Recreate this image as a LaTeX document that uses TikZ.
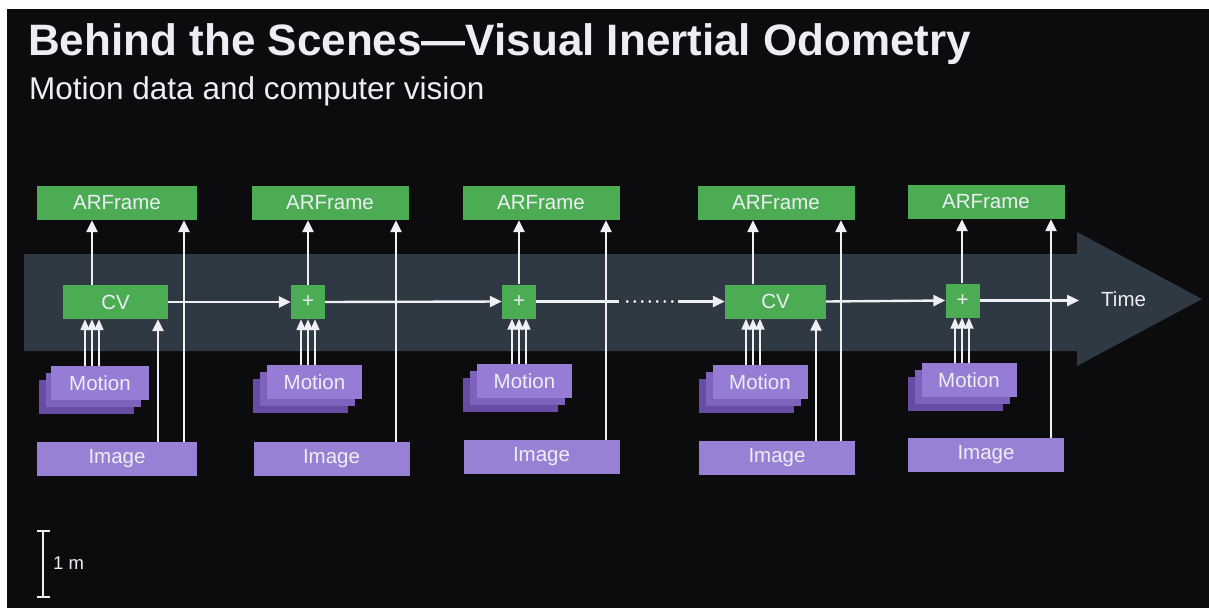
\documentclass[tikz,border=0pt]{standalone}
\usepackage{fontspec}
\setmainfont{Liberation Sans}
\usetikzlibrary{arrows.meta}
\definecolor{bg}{RGB}{12,12,14}
\definecolor{band}{RGB}{46,57,67}
\definecolor{grn}{RGB}{76,172,84}
\definecolor{moA}{RGB}{150,124,212}
\definecolor{moB}{RGB}{126,98,190}
\definecolor{moC}{RGB}{104,76,164}
\definecolor{imgc}{RGB}{152,128,212}
\definecolor{txt}{RGB}{236,238,244}
\definecolor{wline}{RGB}{240,240,244}
\tikzset{
  boxtxt/.style={font=\fontsize{20.5}{24}\selectfont, text=txt, inner sep=0pt, anchor=center},
  arbox/.style={boxtxt, fill=grn, minimum width=157pt, minimum height=34pt},
  corebox/.style={boxtxt, fill=grn, minimum height=34pt},
  mobox/.style={boxtxt, minimum width=95pt, minimum height=34pt},
  imbox/.style={boxtxt, fill=imgc, minimum width=156pt, minimum height=34pt},
  arr/.style={draw=wline, line width=2.4pt, -{Triangle[width=11pt,length=12pt]}},
  marr/.style={draw=wline, line width=1.8pt, -{Triangle[width=9pt,length=11pt]}},
  plain/.style={draw=wline, line width=2.4pt},
}
\begin{document}
\begin{tikzpicture}[x=1pt,y=-1pt]
\useasboundingbox (0,0) rectangle (1209,608);
\fill[white] (0,0) rectangle (1209,608);
\fill[bg] (7,9) rectangle (1209,608);
% titles
\node[anchor=base west, inner sep=0pt, text=txt, font=\fontsize{44}{48}\selectfont\bfseries] (title) at (28,55) {Behind the Scenes—Visual Inertial Odometry};
\node[anchor=base west, inner sep=0pt, text=txt, font=\fontsize{31.5}{34}\selectfont] (subtitle) at (29,99) {Motion data and computer vision};
% time band
\fill[band] (24,254) -- (1077,254) -- (1077,232) -- (1202,299) -- (1077,366) -- (1077,351) -- (24,351) -- cycle;
% ARFrames
\node[arbox, minimum width=160pt] (ar1) at (117,203) {ARFrame};
\node[arbox] (ar2) at (330,203) {ARFrame};
\node[arbox] (ar3) at (541,203) {ARFrame};
\node[arbox] (ar4) at (776,203) {ARFrame};
\node[arbox] (ar5) at (986,202) {ARFrame};
% cores
\node[corebox, minimum width=105pt] (c1) at (115.5,302) {CV};
\node[corebox, minimum width=34pt] (c2) at (308,302) {+};
\node[corebox, minimum width=34pt] (c3) at (519,301.5) {+};
\node[corebox, minimum width=101pt] (c4) at (775.5,301.5) {CV};
\node[corebox, minimum width=34pt] (c5) at (962.5,300.5) {+};
% motion stacks
\node[mobox, fill=moC] (m1c) at (86,397) {};
\node[mobox, fill=moB] (m1b) at (93,390) {};
\node[mobox, fill=moA, minimum width=98pt] (m1) at (100,383) {Motion};
\node[mobox, fill=moC] (m2c) at (300.5,396) {};
\node[mobox, fill=moB] (m2b) at (307.5,389) {};
\node[mobox, fill=moA] (m2) at (314.5,382) {Motion};
\node[mobox, fill=moC] (m3c) at (510.5,395) {};
\node[mobox, fill=moB] (m3b) at (517.5,388) {};
\node[mobox, fill=moA] (m3) at (524.5,381) {Motion};
\node[mobox, fill=moC] (m4c) at (746,396) {};
\node[mobox, fill=moB] (m4b) at (753,389) {};
\node[mobox, fill=moA] (m4) at (760,382) {Motion};
\node[mobox, fill=moC] (m5c) at (955,394) {};
\node[mobox, fill=moB] (m5b) at (962,387) {};
\node[mobox, fill=moA] (m5) at (969,380) {Motion};
% images
\node[imbox, minimum width=160pt] (i1) at (117,459) {Image};
\node[imbox] (i2) at (331.5,459) {Image};
\node[imbox] (i3) at (541.5,457) {Image};
\node[imbox] (i4) at (777,458) {Image};
\node[imbox] (i5) at (986,455) {Image};
% column guide coordinates
\coordinate (u1) at (92,0);
\coordinate (u2) at (308,0);
\coordinate (u3) at (519,0);
\coordinate (u4) at (753,0);
\coordinate (u5) at (962,0);
\coordinate (l1) at (184,0);
\coordinate (l2) at (396,0);
\coordinate (l3) at (606,0);
\coordinate (l4) at (841,0);
\coordinate (l5) at (1051,0);
\coordinate (v1) at (158,0);
\coordinate (v4) at (816,0);
% horizontal chain
\draw[arr] (c1.east) -- (c2.west);
\draw[arr] (c2.east) -- (c3.west);
\coordinate (d1) at (619,301.5);
\coordinate (d2) at (678,301.5);
\draw[plain] (c3.east) -- (d1);
\draw[wline, line width=2.4pt, line cap=round, dash pattern=on 0.5pt off 7pt] ([xshift=8pt]d1) -- (d2);
\draw[arr] (d2) -- (c4.west);
\draw[arr] (c4.east) -- (c5.west);
\coordinate (tend) at (1079,300.5);
\draw[arr] (c5.east) -- (tend);
\node[anchor=west, inner sep=0pt, text=txt, font=\fontsize{20.5}{24}\selectfont] (time) at (1101,299) {Time};
% vertical arrows
\foreach \k in {1,...,5}{
  \draw[arr] (u\k |- c\k.north) -- (u\k |- ar\k.south);
  \draw[arr] (l\k |- i\k.north) -- (l\k |- ar\k.south);
  \draw[marr] ([xshift=-7pt]u\k |- m\k.north) -- ([xshift=-7pt]u\k |- c\k.south);
  \draw[marr] ([xshift=7pt]u\k |- m\k.north) -- ([xshift=7pt]u\k |- c\k.south);
  \draw[marr] (u\k |- m\k.north) -- (u\k |- c\k.south);
}
\draw[arr] (v1 |- i1.north) -- (v1 |- c1.south);
\draw[arr] (v4 |- i4.north) -- (v4 |- c4.south);
% scale bar
\coordinate (sbt) at (43,531);
\coordinate (sbb) at (43,597);
\draw[wline, line width=2.6pt] (sbt) -- (sbb);
\draw[wline, line width=2.6pt] ([xshift=-6.5pt]sbt) -- ([xshift=6.5pt]sbt);
\draw[wline, line width=2.6pt] ([xshift=-6.5pt]sbb) -- ([xshift=6.5pt]sbb);
\node[anchor=west, inner sep=0pt, text=txt, font=\fontsize{18.5}{20}\selectfont] (scale) at (53,563) {1 m};
\end{tikzpicture}
\end{document}
